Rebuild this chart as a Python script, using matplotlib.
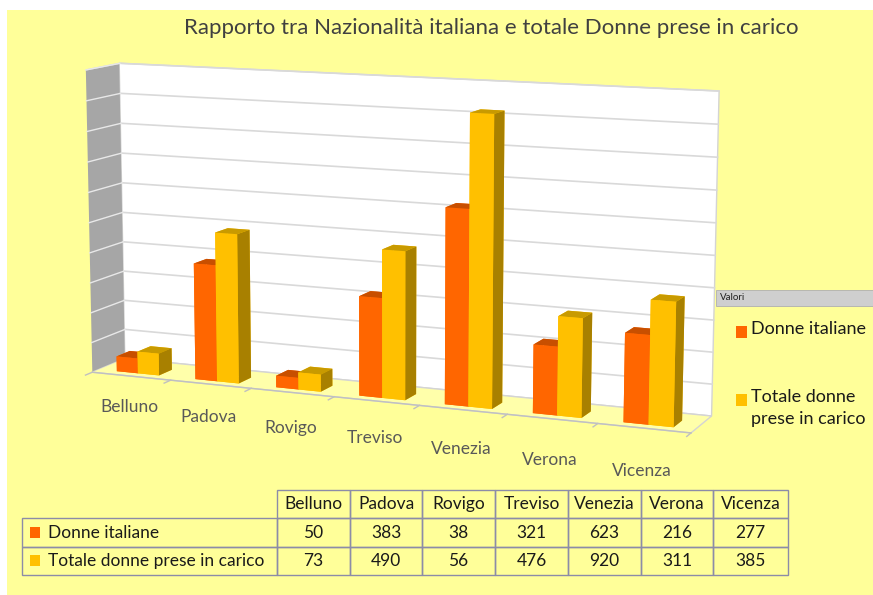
import numpy as np
import matplotlib
matplotlib.use('Agg')
from matplotlib import pyplot as plt
from matplotlib.patches import Rectangle
from mpl_toolkits.mplot3d import proj3d

# data
cities = ['Belluno', 'Padova', 'Rovigo', 'Treviso', 'Venezia', 'Verona', 'Vicenza']
donne_italiane = [50, 383, 38, 321, 623, 216, 277]
totale_donne = [73, 490, 56, 476, 920, 311, 385]
series_names = ['Donne italiane', 'Totale donne prese in carico']

plt.rcParams['font.family'] = ['Lato', 'DejaVu Sans']

W, H = 873, 595
bg = '#ffff99'
# face colours for bar3d: -z, +z, -y(front), +y, -x, +x
orange = ['#ff6600', '#c84f00', '#ff6600', '#ff6600', '#ff6600', '#c85000']
yellow = ['#ffc000', '#c89a00', '#ffc000', '#ffc000', '#ffc000', '#a88000']

fig = plt.figure(figsize=(W / 100, H / 100), dpi=100, facecolor='white')
fig.patches.append(Rectangle((7 / W, 0), 1, 1 - 10 / H, transform=fig.transFigure,
                             facecolor=bg, edgecolor='none', zorder=-10))

fig.text(491 / W, 1 - 28 / H, 'Rapporto tra Nazionalità italiana e totale Donne prese in carico',
         ha='center', va='center', fontsize=16, color='#404040')

# 3D clustered columns (square axes, larger than the drawing so nothing is clipped)
ax = fig.add_axes([0.0326, -0.0092, 0.8076, 1.1849], projection='3d',
                  proj_type='persp', focal_length=0.65)
ax.set_facecolor((0, 0, 0, 0))
n = len(cities)
w = 0.27
depth = 1.0
x = np.arange(n) + 0.5
xs = np.concatenate([x - w, x])
vals = np.array(donne_italiane + totale_donne)
cols = [c for i in range(2 * n) for c in (orange if i < n else yellow)]
ax.bar3d(xs, np.full(2 * n, 0.2), np.zeros(2 * n), w, 0.4, vals, color=cols, shade=False,
         edgecolor='none', linewidth=0)

ax.set_xlim(0, n)
ax.set_ylim(0, depth)
ax.set_zlim(0, 1000)
ax.set_box_aspect((1, 0.11, 0.49), zoom=1.0)
ax.view_init(elev=10, azim=-67)

ax.xaxis.set_pane_color('#a6a6a6')
ax.yaxis.set_pane_color('white')
ax.zaxis.set_pane_color('#ffffaa')
for a in (ax.xaxis, ax.yaxis, ax.zaxis):
    a.line.set_linewidth(0)
    a.pane.set_edgecolor('#d4d4d4')
ax.set_xticks([])
ax.set_yticks([])
ax.set_zticks([])
ax.grid(False)

# gridlines on the walls
for lev in range(100, 1001, 100):
    ax.plot([0, n], [depth, depth], [lev, lev], color='#d9d9d9', lw=1.2)
    ax.plot([0, 0], [0, depth], [lev, lev], color='#e8e8e8', lw=1.0)

# front edge of the floor with tick marks
ax.plot([0, n], [0, 0], [0, 0], color='#c0c0c0', lw=1)
for i in range(n + 1):
    ax.plot([i, i], [0, -0.2], [0, 0], color='#c0c0c0', lw=1)

# category labels, placed below the projected front edge
fig.canvas.draw()
M = ax.get_proj()
for i, (xi, name) in enumerate(zip(x, cities)):
    X, Y, _ = proj3d.proj_transform(xi, 0, 0, M)
    px, py = ax.transData.transform((X, Y))
    fig.text((px - 2) / W, (py - 31 - 2 * i) / H, name, ha='center', va='center',
             fontsize=12.5, color='#595959')

# legend
fig.patches.append(Rectangle((716 / W, 1 - 306 / H), 157 / W, 16 / H, transform=fig.transFigure,
                             facecolor='#cfcfcf', edgecolor='#b0b0b0', lw=0.6))
fig.text(720 / W, 1 - 298 / H, 'Valori', fontsize=7, va='center', color='#202020')
leg_y = [332, 400]
leg_txt = ['Donne italiane', 'Totale donne\nprese in carico']
for yy, t, c in zip(leg_y, leg_txt, ['#ff6600', '#ffc000']):
    fig.patches.append(Rectangle((736 / W, 1 - (yy + 6) / H), 11 / W, 12 / H,
                                 transform=fig.transFigure, facecolor=c, edgecolor='none'))
    fig.text(751 / W, 1 - (yy - 11) / H, t, fontsize=13, va='top', ha='left',
             color='#1a1a1a', linespacing=1.45)

# data table
tax = fig.add_axes([22 / W, 20 / H, 766 / W, 85 / H])
tax.axis('off')
cell_text = [[''] + cities]
for name, row in zip(series_names, [donne_italiane, totale_donne]):
    cell_text.append([name] + [str(v) for v in row])
widths = np.array([255, 73, 72, 73, 73, 73, 72, 75]) / 766
tbl = tax.table(cellText=cell_text, colWidths=widths, bbox=[0, 0, 1, 1], cellLoc='center')
tbl.auto_set_font_size(False)
tbl.set_fontsize(12.5)
for (r, c), cell in tbl.get_celld().items():
    cell.set_edgecolor('#8c8ca8')
    cell.set_linewidth(1)
    cell.set_facecolor('none')
    cell.get_text().set_color('#1a1a1a')
    if c == 0:
        cell._loc = 'left'
        cell.get_text().set_horizontalalignment('left')
    if r == 0 and c == 0:
        cell.visible_edges = ''
for r, c in zip([1, 2], ['#ff6600', '#ffc000']):
    tax.add_patch(Rectangle((0.0105, 1 - (r + 0.5) / 3 - 0.065), 0.013, 0.13,
                            transform=tax.transAxes, facecolor=c, edgecolor='none'))

fig.savefig('out.png', dpi=100, facecolor=fig.get_facecolor())
